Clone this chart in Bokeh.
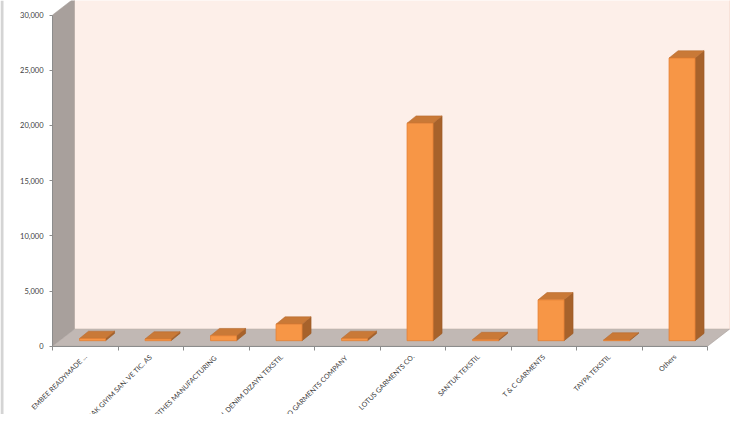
import math
from bokeh.plotting import figure
from bokeh.models import Range1d, FixedTicker, LinearAxis, NumeralTickFormatter, Span
from bokeh.embed import file_html
from bokeh.resources import INLINE

# ---- data ----
companies = [
    "EMBEE READYMADE ...",
    "ERAK GIYIM SAN. VE TIC. AS",
    "CLOTHES  MANUFACTURING",
    "GLOBAL DENIM DIZAYN TEKSTIL",
    "SMCO GARMENTS  COMPANY",
    "LOTUS GARMENTS CO.",
    "SANTUK TEKSTIL",
    "T & C GARMENTS",
    "TAYPA TEKSTIL",
    "Others",
]
values = [200, 150, 450, 1500, 200, 19700, 100, 3700, 60, 25600]
y_ticks = [0, 5000, 10000, 15000, 20000, 25000, 30000]

# ---- layout constants ----
W, H = 734, 414
X0PX, Y0PX = 52, 345.7          # pixel position of the data origin in the canvas
XPX = 65.5                      # px per category
YMAX = 30000
YPU = YMAX / 331.2              # data units per px
x_start, x_end = -X0PX / XPX, (W - X0PX) / XPX
y_start, y_end = -(H - Y0PX) * YPU, Y0PX * YPU

# 3D offsets (px -> data)
DX, DY = 22 / XPX, 17 * YPU          # wall depth
FDX, FDY = 7.3 / XPX, 5.5 * YPU      # bar front offset
BDX, BDY = 9 / XPX, 7.3 * YPU        # bar depth
HW = 13 / XPX                        # bar half width

n = len(companies)

p = figure(width=W, height=H, x_range=Range1d(x_start, x_end), y_range=Range1d(y_start, y_end),
           output_backend="svg", toolbar_location=None,
           x_axis_type=None, y_axis_type=None,
           min_border_left=0, min_border_right=0, min_border_top=0, min_border_bottom=0)
p.outline_line_color = None
p.background_fill_color = "white"
p.border_fill_color = "white"

# walls and floor
top = y_end * 2
p.patch([DX, n + DX, n + DX, DX], [DY, DY, top, top],
        fill_color="#FDEFE9", line_color="#F6DCD2", line_width=0.8)
p.patch([0, DX, DX, 0], [0, DY, YMAX + DY, YMAX],
        fill_color="#A8A09C", line_color="#A8A09C", line_width=0.5)
p.patch([0, n, n + DX, DX], [0, 0, DY, DY],
        fill_color="#C1B8B4", line_color="#A9A19D", line_width=0.6)

# bars
fx, fy, tx, ty, sx, sy = [], [], [], [], [], []
for i, v in enumerate(values):
    c = i + 0.5
    x0, x1 = c - HW + FDX, c + HW + FDX
    y0, y1 = FDY, v + FDY
    fx.append([x0, x1, x1, x0]); fy.append([y0, y0, y1, y1])
    tx.append([x0, x1, x1 + BDX, x0 + BDX]); ty.append([y1, y1, y1 + BDY, y1 + BDY])
    sx.append([x1, x1 + BDX, x1 + BDX, x1]); sy.append([y0, y0 + BDY, y1 + BDY, y1])

p.patches(sx, sy, fill_color="#A7622B", line_color="#9A5A27", line_width=0.6)
p.patches(tx, ty, fill_color="#C97937", line_color="#B86C30", line_width=0.6)
p.patches(fx, fy, fill_color="#F79646", line_color="#E37F32", line_width=0.8)

# chart-area border on the left edge
p.add_layout(Span(location=x_start + 1.5 / XPX, dimension="height",
                  line_color="#D4D4D4", line_width=3))

# axes (drawn inside the full-canvas frame)
label_color = "#404040"
axis_color = "#8C8C8C"
xaxis = LinearAxis(fixed_location=0, bounds=(0, n),
                   ticker=FixedTicker(ticks=[i + 0.5 for i in range(n)],
                                      minor_ticks=list(range(n + 1))),
                   major_label_overrides={i + 0.5: companies[i] for i in range(n)},
                   major_label_orientation=math.pi / 4,
                   major_tick_out=0, major_tick_in=0,
                   minor_tick_out=4, minor_tick_in=0,
                   axis_line_color=axis_color, minor_tick_line_color=axis_color,
                   major_label_text_font="Lato", major_label_text_font_size="7px",
                   major_label_text_color=label_color, major_label_standoff=5)
yaxis = LinearAxis(fixed_location=0, bounds=(0, YMAX),
                   ticker=FixedTicker(ticks=y_ticks),
                   formatter=NumeralTickFormatter(format="0,0"),
                   major_tick_out=3, major_tick_in=0, minor_tick_out=0, minor_tick_in=0,
                   axis_line_color=axis_color, major_tick_line_color=axis_color,
                   major_label_text_font="Lato", major_label_text_font_size="7.5px",
                   major_label_text_color=label_color, major_label_standoff=6)
p.add_layout(xaxis, "below")
p.add_layout(yaxis, "left")

open("out.html", "w").write(file_html(p, INLINE))
